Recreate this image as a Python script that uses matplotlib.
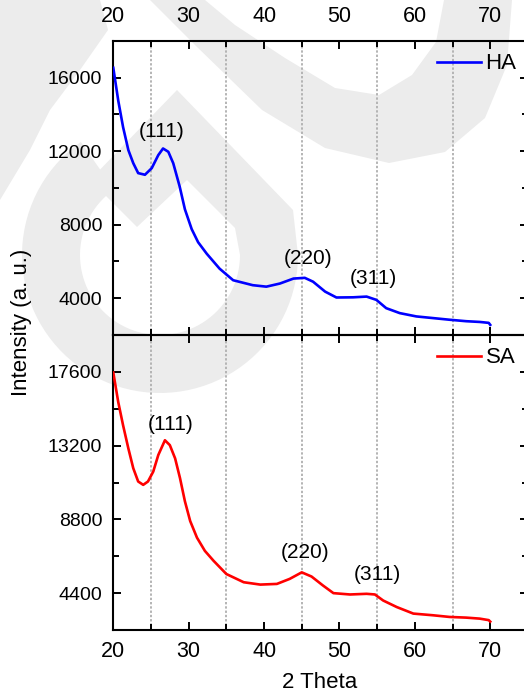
import numpy as np
import matplotlib
matplotlib.use("Agg")
import matplotlib.pyplot as plt
from matplotlib.patches import Polygon
from matplotlib.ticker import MultipleLocator

plt.rcParams['font.family'] = ['Liberation Sans', 'DejaVu Sans']

# ---- data ----
ha_theta = [20.0, 20.66, 21.3, 22.0, 22.65, 23.3, 24.2, 25.1, 25.97, 26.6, 27.3, 27.95,
            28.8, 29.5, 30.4, 31.25, 32.4, 34.1, 35.9, 38.5, 40.3, 42.1, 43.9, 45.4,
            46.5, 48.1, 49.6, 51.8, 53.6, 54.9, 56.2, 58.0, 60.2, 62.4, 64.6, 66.8,
            68.6, 69.8, 70.0]
ha_int = [16540, 14750, 13310, 12060, 11350, 10810, 10720, 11080, 11790, 12150, 11970, 11350,
          10090, 8840, 7760, 7050, 6420, 5610, 4980, 4710, 4630, 4800, 5070, 5110,
          4900, 4360, 4040, 4050, 4090, 3910, 3460, 3190, 3010, 2920, 2830, 2750,
          2710, 2660, 2550]

sa_theta = [20.0, 20.66, 21.3, 22.0, 22.65, 23.3, 23.97, 24.6, 25.3, 25.97, 26.85, 27.5,
            28.2, 28.85, 29.5, 30.2, 31.1, 32.15, 33.3, 35.0, 37.3, 39.5, 41.7, 43.4,
            45.0, 46.3, 47.8, 49.2, 51.4, 53.6, 54.7, 55.8, 57.6, 59.8, 62.4, 64.6,
            66.8, 68.6, 69.8, 70.0]
sa_int = [17560, 15790, 14410, 13030, 11850, 11060, 10860, 11060, 11650, 12640, 13520, 13230,
          12440, 11260, 9880, 8700, 7710, 6920, 6330, 5540, 5050, 4910, 4950, 5250,
          5640, 5390, 4860, 4400, 4320, 4360, 4320, 3960, 3570, 3180, 3080, 2980,
          2940, 2880, 2790, 2700]

ref_lines = [25, 35, 45, 55, 65]
peak_labels = ['(111)', '(220)', '(311)']
ha_label_pos = [(26.4, 13100), (45.9, 6150), (54.5, 5100)]
sa_label_pos = [(27.6, 14450), (45.5, 6850), (55.0, 5500)]

W, H = 524, 696
fig = plt.figure(figsize=(W / 100, H / 100), dpi=100)


def px(pts):
    # pixel coords (from top-left) -> figure fraction
    return [(x / W, 1 - y / H) for x, y in pts]


# faint watermark behind the chart
wm = '#ececec'
u_band = [(150, 0), (195, 45), (262, 110), (325, 148), (389, 163), (445, 152), (485, 118),
          (507, 65), (512, 0), (444, 0), (436, 42), (412, 75), (379, 95), (335, 88),
          (285, 58), (235, 25), (205, 0)]
cx, cy = 160, 255
t = np.radians(np.linspace(0, 235, 70))
ring = ([(cx + 138 * np.cos(a), cy + 138 * np.sin(a)) for a in t] +
        [(cx + 80 * np.cos(a), cy + 80 * np.sin(a)) for a in t[::-1]])
chevron = [(298, 255), (293, 210), (177, 90), (90, 180), (137, 227), (187, 180),
           (235, 228), (240, 255)]
top_left = [(0, 0), (100, 0), (108, 30), (80, 70), (50, 110), (30, 150), (0, 200)]
for shape in [u_band, ring, chevron, top_left]:
    fig.patches.append(Polygon(px(shape), closed=True, transform=fig.transFigure,
                               facecolor=wm, edgecolor='none', zorder=-5))

ax1 = fig.add_axes([0.2162, 0.5187, 0.7913, 0.4224])
ax2 = fig.add_axes([0.2162, 0.0948, 0.7913, 0.4239])

for ax, x, y, col, name, ylim, major, labels in [
        (ax1, ha_theta, ha_int, '#0000ff', 'HA', (2000, 18000), 4000, ha_label_pos),
        (ax2, sa_theta, sa_int, '#ff0000', 'SA', (2200, 19800), 4400, sa_label_pos)]:
    ax.set_facecolor('none')
    for v in ref_lines:
        ax.axvline(v, color='#b4b4b4', lw=1.4, ls=(0, (1.2, 1.0)), zorder=1)
    ax.plot(x, y, color=col, lw=1.9, label=name, zorder=3)
    ax.set_xlim(20, 75)
    ax.set_ylim(*ylim)
    ax.xaxis.set_major_locator(MultipleLocator(10))
    ax.xaxis.set_minor_locator(MultipleLocator(5))
    ax.yaxis.set_major_locator(MultipleLocator(major))
    ax.yaxis.set_minor_locator(MultipleLocator(major / 2))
    ax.set_yticks([v for v in ax.get_yticks() if ylim[0] < v < ylim[1]])
    for s in ax.spines.values():
        s.set_linewidth(1.5)
    ax.tick_params(which='both', direction='in', top=True, right=True, width=1.4)
    ax.tick_params(which='major', length=6)
    ax.tick_params(which='minor', length=4)
    ax.tick_params(axis='y', labelsize=14, pad=8)
    ax.tick_params(axis='x', labelsize=15.5)
    for txt, (tx, ty) in zip(peak_labels, labels):
        ax.text(tx, ty, txt, ha='center', va='center', fontsize=15)
    ax.legend(loc='center left', bbox_to_anchor=(0.78, 0.922), frameon=False,
              fontsize=16, handlelength=2.0, handletextpad=0.2, borderpad=0,
              borderaxespad=0)

ax1.tick_params(axis='x', labeltop=True, labelbottom=False, pad=10)
ax2.tick_params(axis='x', labeltop=False, labelbottom=True, pad=8)

fig.text(320 / W, 1 - 683 / H, '2 Theta', ha='center', va='center', fontsize=16)
fig.text(22 / W, 1 - 322 / H, 'Intensity (a. u.)', ha='center', va='center',
         rotation=90, fontsize=16)

fig.savefig('out.png', dpi=100)
